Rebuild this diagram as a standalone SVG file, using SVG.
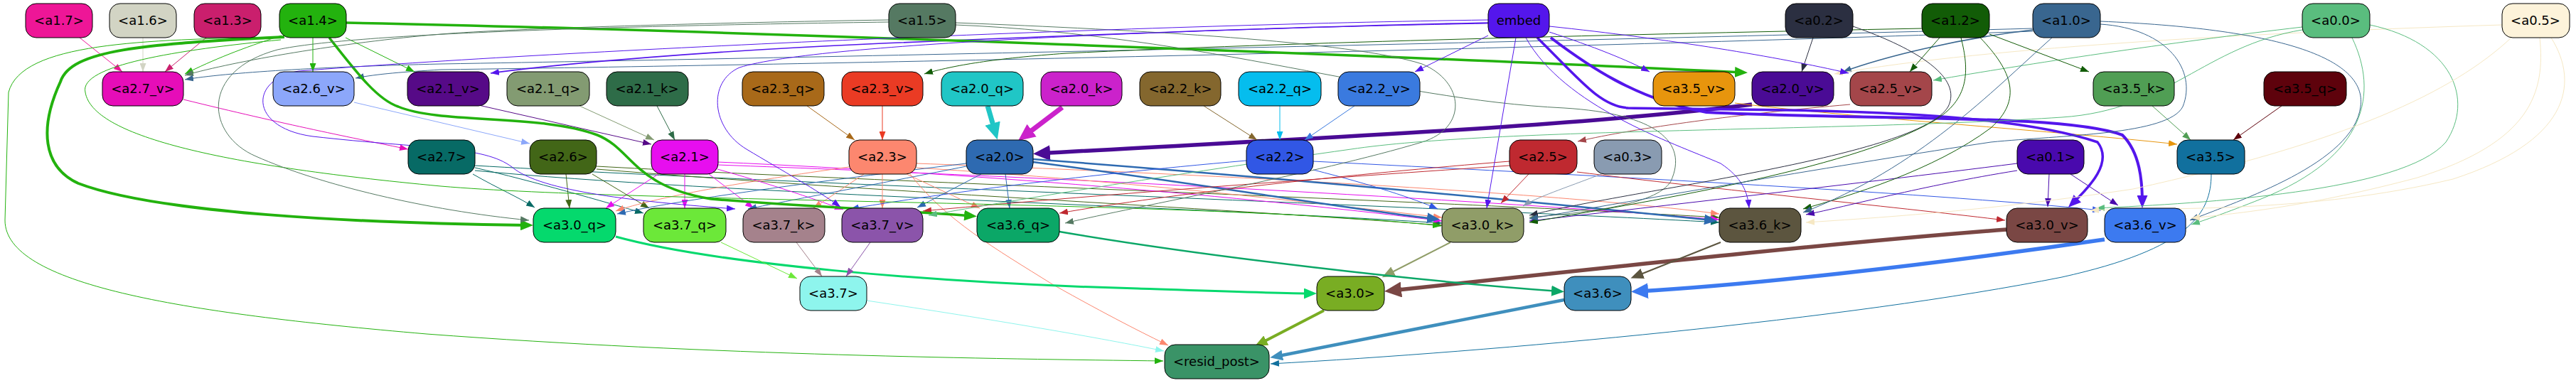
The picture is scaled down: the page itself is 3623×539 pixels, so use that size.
<svg xmlns="http://www.w3.org/2000/svg" width="3623" height="539" viewBox="0 0 3623 539">
<style>
.n rect{stroke:#000;stroke-width:1}
.n text{font-family:"DejaVu Sans","Liberation Sans",sans-serif;font-size:18px;text-anchor:middle;fill:#000}
.e{fill:none;stroke-width:1}
.w15{stroke-width:1.6}.w2{stroke-width:2}.w25{stroke-width:2.5}.w3{stroke-width:3}.w35{stroke-width:3.5}.w4{stroke-width:4}.w45{stroke-width:4.5}.w55{stroke-width:5.5}.w7{stroke-width:7}
.c-a1_7{stroke:#EE1697}.c-a1_6{stroke:#D2D4C4}.c-a1_3{stroke:#CA1F6D}.c-a1_4{stroke:#23B20E}.c-a1_5{stroke:#557962}.c-embed{stroke:#5416EC}.c-a0_2{stroke:#2B2F41}.c-a1_2{stroke:#125C07}.c-a1_0{stroke:#39668F}.c-a0_0{stroke:#5ABD7E}.c-a0_5{stroke:#F6E8C4}
.c-a2_7v{stroke:#E60DB8}.c-a2_6v{stroke:#8CA7FA}.c-a2_1v{stroke:#560A87}.c-a2_1q{stroke:#839B72}.c-a2_1k{stroke:#2E6C48}.c-a2_3q{stroke:#A86919}.c-a2_3v{stroke:#EA3B24}.c-a2_0q{stroke:#20C6C6}.c-a2_0k{stroke:#CB22CB}.c-a2_2k{stroke:#84672E}.c-a2_2q{stroke:#05BDEE}.c-a2_2v{stroke:#3A7ADF}.c-a3_5v{stroke:#E7950D}.c-a2_0v{stroke:#4A0B95}.c-a2_5v{stroke:#A4464A}.c-a3_5k{stroke:#509E54}.c-a3_5q{stroke:#5E020C}
.c-a2_7{stroke:#076A65}.c-a2_6{stroke:#426617}.c-a2_1{stroke:#E70EEF}.c-a2_3{stroke:#FC876F}.c-a2_0{stroke:#2E6AB1}.c-a2_2{stroke:#3157E5}.c-a2_5{stroke:#BF2930}.c-a0_3{stroke:#899BB1}.c-a0_1{stroke:#4909AD}.c-a3_5{stroke:#11709E}
.c-a3_0q{stroke:#05D96D}.c-a3_7q{stroke:#6CE839}.c-a3_7k{stroke:#A5828C}.c-a3_7v{stroke:#8B54AA}.c-a3_6q{stroke:#0BA767}.c-a3_0k{stroke:#909D68}.c-a3_6k{stroke:#5C553F}.c-a3_0v{stroke:#7A4744}.c-a3_6v{stroke:#3C7AF0}.c-a3_7{stroke:#8EF5ED}.c-a3_0{stroke:#79AD23}.c-a3_6{stroke:#3F8FBD}
</style>
<defs>
<marker id="t-a1_7" viewBox="0 0 12 9" refX="12" refY="4.5" markerWidth="12" markerHeight="9" markerUnits="userSpaceOnUse" orient="auto" preserveAspectRatio="none"><path d="M0,0L12,4.5L0,9z" fill="#EE1697"/></marker>
<marker id="t-a1_6" viewBox="0 0 12 9" refX="12" refY="4.5" markerWidth="12" markerHeight="9" markerUnits="userSpaceOnUse" orient="auto" preserveAspectRatio="none"><path d="M0,0L12,4.5L0,9z" fill="#D2D4C4"/></marker>
<marker id="t-a1_3" viewBox="0 0 12 9" refX="12" refY="4.5" markerWidth="12" markerHeight="9" markerUnits="userSpaceOnUse" orient="auto" preserveAspectRatio="none"><path d="M0,0L12,4.5L0,9z" fill="#CA1F6D"/></marker>
<marker id="t-a1_4" viewBox="0 0 12 9" refX="12" refY="4.5" markerWidth="12" markerHeight="9" markerUnits="userSpaceOnUse" orient="auto" preserveAspectRatio="none"><path d="M0,0L12,4.5L0,9z" fill="#23B20E"/></marker>
<marker id="t-a1_5" viewBox="0 0 12 9" refX="12" refY="4.5" markerWidth="12" markerHeight="9" markerUnits="userSpaceOnUse" orient="auto" preserveAspectRatio="none"><path d="M0,0L12,4.5L0,9z" fill="#557962"/></marker>
<marker id="t-embed" viewBox="0 0 12 9" refX="12" refY="4.5" markerWidth="12" markerHeight="9" markerUnits="userSpaceOnUse" orient="auto" preserveAspectRatio="none"><path d="M0,0L12,4.5L0,9z" fill="#5416EC"/></marker>
<marker id="t-a0_2" viewBox="0 0 12 9" refX="12" refY="4.5" markerWidth="12" markerHeight="9" markerUnits="userSpaceOnUse" orient="auto" preserveAspectRatio="none"><path d="M0,0L12,4.5L0,9z" fill="#2B2F41"/></marker>
<marker id="t-a1_2" viewBox="0 0 12 9" refX="12" refY="4.5" markerWidth="12" markerHeight="9" markerUnits="userSpaceOnUse" orient="auto" preserveAspectRatio="none"><path d="M0,0L12,4.5L0,9z" fill="#125C07"/></marker>
<marker id="t-a1_0" viewBox="0 0 12 9" refX="12" refY="4.5" markerWidth="12" markerHeight="9" markerUnits="userSpaceOnUse" orient="auto" preserveAspectRatio="none"><path d="M0,0L12,4.5L0,9z" fill="#39668F"/></marker>
<marker id="t-a0_0" viewBox="0 0 12 9" refX="12" refY="4.5" markerWidth="12" markerHeight="9" markerUnits="userSpaceOnUse" orient="auto" preserveAspectRatio="none"><path d="M0,0L12,4.5L0,9z" fill="#5ABD7E"/></marker>
<marker id="t-a0_5" viewBox="0 0 12 9" refX="12" refY="4.5" markerWidth="12" markerHeight="9" markerUnits="userSpaceOnUse" orient="auto" preserveAspectRatio="none"><path d="M0,0L12,4.5L0,9z" fill="#F6E8C4"/></marker>
<marker id="t-a2_7v" viewBox="0 0 12 9" refX="12" refY="4.5" markerWidth="12" markerHeight="9" markerUnits="userSpaceOnUse" orient="auto" preserveAspectRatio="none"><path d="M0,0L12,4.5L0,9z" fill="#E60DB8"/></marker>
<marker id="t-a2_6v" viewBox="0 0 12 9" refX="12" refY="4.5" markerWidth="12" markerHeight="9" markerUnits="userSpaceOnUse" orient="auto" preserveAspectRatio="none"><path d="M0,0L12,4.5L0,9z" fill="#8CA7FA"/></marker>
<marker id="t-a2_1v" viewBox="0 0 12 9" refX="12" refY="4.5" markerWidth="12" markerHeight="9" markerUnits="userSpaceOnUse" orient="auto" preserveAspectRatio="none"><path d="M0,0L12,4.5L0,9z" fill="#560A87"/></marker>
<marker id="t-a2_1q" viewBox="0 0 12 9" refX="12" refY="4.5" markerWidth="12" markerHeight="9" markerUnits="userSpaceOnUse" orient="auto" preserveAspectRatio="none"><path d="M0,0L12,4.5L0,9z" fill="#839B72"/></marker>
<marker id="t-a2_1k" viewBox="0 0 12 9" refX="12" refY="4.5" markerWidth="12" markerHeight="9" markerUnits="userSpaceOnUse" orient="auto" preserveAspectRatio="none"><path d="M0,0L12,4.5L0,9z" fill="#2E6C48"/></marker>
<marker id="t-a2_3q" viewBox="0 0 12 9" refX="12" refY="4.5" markerWidth="12" markerHeight="9" markerUnits="userSpaceOnUse" orient="auto" preserveAspectRatio="none"><path d="M0,0L12,4.5L0,9z" fill="#A86919"/></marker>
<marker id="t-a2_3v" viewBox="0 0 12 9" refX="12" refY="4.5" markerWidth="12" markerHeight="9" markerUnits="userSpaceOnUse" orient="auto" preserveAspectRatio="none"><path d="M0,0L12,4.5L0,9z" fill="#EA3B24"/></marker>
<marker id="t-a2_2k" viewBox="0 0 12 9" refX="12" refY="4.5" markerWidth="12" markerHeight="9" markerUnits="userSpaceOnUse" orient="auto" preserveAspectRatio="none"><path d="M0,0L12,4.5L0,9z" fill="#84672E"/></marker>
<marker id="t-a2_2q" viewBox="0 0 12 9" refX="12" refY="4.5" markerWidth="12" markerHeight="9" markerUnits="userSpaceOnUse" orient="auto" preserveAspectRatio="none"><path d="M0,0L12,4.5L0,9z" fill="#05BDEE"/></marker>
<marker id="t-a2_2v" viewBox="0 0 12 9" refX="12" refY="4.5" markerWidth="12" markerHeight="9" markerUnits="userSpaceOnUse" orient="auto" preserveAspectRatio="none"><path d="M0,0L12,4.5L0,9z" fill="#3A7ADF"/></marker>
<marker id="t-a2_5v" viewBox="0 0 12 9" refX="12" refY="4.5" markerWidth="12" markerHeight="9" markerUnits="userSpaceOnUse" orient="auto" preserveAspectRatio="none"><path d="M0,0L12,4.5L0,9z" fill="#A4464A"/></marker>
<marker id="t-a3_5v" viewBox="0 0 12 9" refX="12" refY="4.5" markerWidth="12" markerHeight="9" markerUnits="userSpaceOnUse" orient="auto" preserveAspectRatio="none"><path d="M0,0L12,4.5L0,9z" fill="#E7950D"/></marker>
<marker id="t-a3_5k" viewBox="0 0 12 9" refX="12" refY="4.5" markerWidth="12" markerHeight="9" markerUnits="userSpaceOnUse" orient="auto" preserveAspectRatio="none"><path d="M0,0L12,4.5L0,9z" fill="#509E54"/></marker>
<marker id="t-a3_5q" viewBox="0 0 12 9" refX="12" refY="4.5" markerWidth="12" markerHeight="9" markerUnits="userSpaceOnUse" orient="auto" preserveAspectRatio="none"><path d="M0,0L12,4.5L0,9z" fill="#5E020C"/></marker>
<marker id="t-a2_7" viewBox="0 0 12 9" refX="12" refY="4.5" markerWidth="12" markerHeight="9" markerUnits="userSpaceOnUse" orient="auto" preserveAspectRatio="none"><path d="M0,0L12,4.5L0,9z" fill="#076A65"/></marker>
<marker id="t-a2_6" viewBox="0 0 12 9" refX="12" refY="4.5" markerWidth="12" markerHeight="9" markerUnits="userSpaceOnUse" orient="auto" preserveAspectRatio="none"><path d="M0,0L12,4.5L0,9z" fill="#426617"/></marker>
<marker id="t-a2_1" viewBox="0 0 12 9" refX="12" refY="4.5" markerWidth="12" markerHeight="9" markerUnits="userSpaceOnUse" orient="auto" preserveAspectRatio="none"><path d="M0,0L12,4.5L0,9z" fill="#E70EEF"/></marker>
<marker id="t-a2_3" viewBox="0 0 12 9" refX="12" refY="4.5" markerWidth="12" markerHeight="9" markerUnits="userSpaceOnUse" orient="auto" preserveAspectRatio="none"><path d="M0,0L12,4.5L0,9z" fill="#FC876F"/></marker>
<marker id="t-a2_0" viewBox="0 0 12 9" refX="12" refY="4.5" markerWidth="12" markerHeight="9" markerUnits="userSpaceOnUse" orient="auto" preserveAspectRatio="none"><path d="M0,0L12,4.5L0,9z" fill="#2E6AB1"/></marker>
<marker id="t-a2_2" viewBox="0 0 12 9" refX="12" refY="4.5" markerWidth="12" markerHeight="9" markerUnits="userSpaceOnUse" orient="auto" preserveAspectRatio="none"><path d="M0,0L12,4.5L0,9z" fill="#3157E5"/></marker>
<marker id="t-a2_5" viewBox="0 0 12 9" refX="12" refY="4.5" markerWidth="12" markerHeight="9" markerUnits="userSpaceOnUse" orient="auto" preserveAspectRatio="none"><path d="M0,0L12,4.5L0,9z" fill="#BF2930"/></marker>
<marker id="t-a0_3" viewBox="0 0 12 9" refX="12" refY="4.5" markerWidth="12" markerHeight="9" markerUnits="userSpaceOnUse" orient="auto" preserveAspectRatio="none"><path d="M0,0L12,4.5L0,9z" fill="#899BB1"/></marker>
<marker id="t-a0_1" viewBox="0 0 12 9" refX="12" refY="4.5" markerWidth="12" markerHeight="9" markerUnits="userSpaceOnUse" orient="auto" preserveAspectRatio="none"><path d="M0,0L12,4.5L0,9z" fill="#4909AD"/></marker>
<marker id="t-a3_5" viewBox="0 0 12 9" refX="12" refY="4.5" markerWidth="12" markerHeight="9" markerUnits="userSpaceOnUse" orient="auto" preserveAspectRatio="none"><path d="M0,0L12,4.5L0,9z" fill="#11709E"/></marker>
<marker id="t-a3_7q" viewBox="0 0 12 9" refX="12" refY="4.5" markerWidth="12" markerHeight="9" markerUnits="userSpaceOnUse" orient="auto" preserveAspectRatio="none"><path d="M0,0L12,4.5L0,9z" fill="#6CE839"/></marker>
<marker id="t-a3_7k" viewBox="0 0 12 9" refX="12" refY="4.5" markerWidth="12" markerHeight="9" markerUnits="userSpaceOnUse" orient="auto" preserveAspectRatio="none"><path d="M0,0L12,4.5L0,9z" fill="#A5828C"/></marker>
<marker id="t-a3_7v" viewBox="0 0 12 9" refX="12" refY="4.5" markerWidth="12" markerHeight="9" markerUnits="userSpaceOnUse" orient="auto" preserveAspectRatio="none"><path d="M0,0L12,4.5L0,9z" fill="#8B54AA"/></marker>
<marker id="t-a3_7" viewBox="0 0 12 9" refX="12" refY="4.5" markerWidth="12" markerHeight="9" markerUnits="userSpaceOnUse" orient="auto" preserveAspectRatio="none"><path d="M0,0L12,4.5L0,9z" fill="#8EF5ED"/></marker>
<marker id="b-a1_4" viewBox="0 0 18 15" refX="11" refY="7.5" markerWidth="18" markerHeight="15" markerUnits="userSpaceOnUse" orient="auto" preserveAspectRatio="none"><path d="M0,0L18,7.5L0,15z" fill="#23B20E"/></marker>
<marker id="b-embed" viewBox="0 0 18 15" refX="11" refY="7.5" markerWidth="18" markerHeight="15" markerUnits="userSpaceOnUse" orient="auto" preserveAspectRatio="none"><path d="M0,0L18,7.5L0,15z" fill="#5416EC"/></marker>
<marker id="b-a2_0" viewBox="0 0 18 15" refX="11" refY="7.5" markerWidth="18" markerHeight="15" markerUnits="userSpaceOnUse" orient="auto" preserveAspectRatio="none"><path d="M0,0L18,7.5L0,15z" fill="#2E6AB1"/></marker>
<marker id="b-a3_0q" viewBox="0 0 18 15" refX="11" refY="7.5" markerWidth="18" markerHeight="15" markerUnits="userSpaceOnUse" orient="auto" preserveAspectRatio="none"><path d="M0,0L18,7.5L0,15z" fill="#05D96D"/></marker>
<marker id="b-a3_0k" viewBox="0 0 18 15" refX="11" refY="7.5" markerWidth="18" markerHeight="15" markerUnits="userSpaceOnUse" orient="auto" preserveAspectRatio="none"><path d="M0,0L18,7.5L0,15z" fill="#909D68"/></marker>
<marker id="b-a3_6q" viewBox="0 0 18 15" refX="11" refY="7.5" markerWidth="18" markerHeight="15" markerUnits="userSpaceOnUse" orient="auto" preserveAspectRatio="none"><path d="M0,0L18,7.5L0,15z" fill="#0BA767"/></marker>
<marker id="b-a3_6k" viewBox="0 0 18 15" refX="11" refY="7.5" markerWidth="18" markerHeight="15" markerUnits="userSpaceOnUse" orient="auto" preserveAspectRatio="none"><path d="M0,0L18,7.5L0,15z" fill="#5C553F"/></marker>
<marker id="b-a3_0" viewBox="0 0 18 15" refX="11" refY="7.5" markerWidth="18" markerHeight="15" markerUnits="userSpaceOnUse" orient="auto" preserveAspectRatio="none"><path d="M0,0L18,7.5L0,15z" fill="#79AD23"/></marker>
<marker id="b-a3_6" viewBox="0 0 18 15" refX="11" refY="7.5" markerWidth="18" markerHeight="15" markerUnits="userSpaceOnUse" orient="auto" preserveAspectRatio="none"><path d="M0,0L18,7.5L0,15z" fill="#3F8FBD"/></marker>
<marker id="h-a2_0q" viewBox="0 0 24 22" refX="14" refY="11" markerWidth="24" markerHeight="22" markerUnits="userSpaceOnUse" orient="auto" preserveAspectRatio="none"><path d="M0,0L24,11L0,22z" fill="#20C6C6"/></marker>
<marker id="h-a2_0k" viewBox="0 0 24 22" refX="14" refY="11" markerWidth="24" markerHeight="22" markerUnits="userSpaceOnUse" orient="auto" preserveAspectRatio="none"><path d="M0,0L24,11L0,22z" fill="#CB22CB"/></marker>
<marker id="h-a2_0v" viewBox="0 0 24 22" refX="14" refY="11" markerWidth="24" markerHeight="22" markerUnits="userSpaceOnUse" orient="auto" preserveAspectRatio="none"><path d="M0,0L24,11L0,22z" fill="#4A0B95"/></marker>
<marker id="h-a3_0v" viewBox="0 0 24 22" refX="14" refY="11" markerWidth="24" markerHeight="22" markerUnits="userSpaceOnUse" orient="auto" preserveAspectRatio="none"><path d="M0,0L24,11L0,22z" fill="#7A4744"/></marker>
<marker id="h-a3_6v" viewBox="0 0 24 22" refX="14" refY="11" markerWidth="24" markerHeight="22" markerUnits="userSpaceOnUse" orient="auto" preserveAspectRatio="none"><path d="M0,0L24,11L0,22z" fill="#3C7AF0"/></marker>
</defs>
<rect width="3623" height="539" fill="#fff"/>
<g id="connectors">
<path class="e c-a1_7" marker-end="url(#t-a1_7)" d="M112,53 L172,101"/>
<path class="e c-a1_6" marker-end="url(#t-a1_6)" d="M201,53 L201,101"/>
<path class="e c-a1_3" marker-end="url(#t-a1_3)" d="M290,53 L232,101"/>
<path class="e c-a1_4" marker-end="url(#t-a1_4)" d="M396,50 C340,68 300,84 260,104"/>
<path class="e c-a1_5" marker-end="url(#t-a1_5)" d="M1250,28 C1000,32 720,40 620,48 C480,60 330,86 260,106"/>
<path class="e c-a1_0" marker-end="url(#t-a1_0)" d="M2859,40 C2200,58 1200,80 620,90 C450,94 320,102 260,112"/>
<path class="e c-a1_4" marker-end="url(#t-a1_4)" d="M440,53 L440,101"/>
<path class="e c-a1_0" marker-end="url(#t-a1_0)" d="M2859,44 C2200,68 1200,90 620,98 C570,101 530,104 500,110"/>
<path class="e c-a1_4" marker-end="url(#t-a1_4)" d="M486,53 L583,101"/>
<path class="e w15 c-embed" marker-end="url(#t-embed)" d="M2093,32 C1800,38 1500,50 1220,62 C1000,72 800,88 690,103"/>
<path class="e c-a1_2" marker-end="url(#t-a1_2)" d="M2703,40 C2300,48 1800,60 1500,75 C1400,82 1340,92 1300,104"/>
<path class="e w35 c-a1_4" marker-end="url(#b-a1_4)" d="M487,32 C1000,42 2000,80 2451,102"/>
<path class="e c-a0_2" marker-end="url(#t-a0_2)" d="M2550,53 L2534,101"/>
<path class="e w15 c-a1_0" marker-end="url(#t-a1_0)" d="M2859,42 C2750,55 2650,80 2592,101"/>
<path class="e c-a0_5" marker-end="url(#t-a0_5)" d="M3519,35 C3200,45 2800,65 2580,104"/>
<path class="e c-a1_2" marker-end="url(#t-a1_2)" d="M2728,53 L2686,101"/>
<path class="e c-a0_0" marker-end="url(#t-a0_0)" d="M3238,38 C3050,60 2850,90 2719,113"/>
<path class="e c-embed" marker-end="url(#t-embed)" d="M2179,37 C2350,55 2500,80 2600,103"/>
<path class="e c-a1_2" marker-end="url(#t-a1_2)" d="M2798,48 L2938,101"/>
<path class="e c-embed" marker-end="url(#t-embed)" d="M2179,45 C2240,65 2290,85 2320,101"/>
<path class="e c-embed" marker-end="url(#t-embed)" d="M2093,50 L1990,101"/>
<path class="e c-a2_7v" marker-end="url(#t-a2_7v)" d="M258,140 C400,175 500,195 574,210"/>
<path class="e c-a2_6v" marker-end="url(#t-a2_6v)" d="M498,144 L745,202"/>
<path class="e c-a2_1v" marker-end="url(#t-a2_1v)" d="M660,145 L916,203"/>
<path class="e c-a2_1q" marker-end="url(#t-a2_1q)" d="M815,149 L920,197"/>
<path class="e c-a2_1k" marker-end="url(#t-a2_1k)" d="M924,149 L949,197"/>
<path class="e c-a2_3q" marker-end="url(#t-a2_3q)" d="M1135,149 L1202,197"/>
<path class="e c-a2_3v" marker-end="url(#t-a2_3v)" d="M1241,149 L1241,197"/>
<path class="e w7 c-a2_0q" marker-end="url(#h-a2_0q)" d="M1389,149 L1400,187"/>
<path class="e w7 c-a2_0k" marker-end="url(#h-a2_0k)" d="M1494,151 L1440,192"/>
<path class="e w55 c-a2_0v" marker-end="url(#h-a2_0v)" d="M2464,147 C2200,180 1800,196 1463,216"/>
<path class="e c-a2_2k" marker-end="url(#t-a2_2k)" d="M1693,149 L1768,197"/>
<path class="e c-a2_2q" marker-end="url(#t-a2_2q)" d="M1800,149 L1800,197"/>
<path class="e c-a2_2v" marker-end="url(#t-a2_2v)" d="M1905,149 L1835,197"/>
<path class="e c-a2_5v" marker-end="url(#t-a2_5v)" d="M2602,147 C2450,160 2300,180 2219,199"/>
<path class="e c-a3_5v" marker-end="url(#t-a3_5v)" d="M2440,145 C2600,165 2900,185 3062,203"/>
<path class="e c-a3_5k" marker-end="url(#t-a3_5k)" d="M3027,149 L3081,197"/>
<path class="e c-a3_5q" marker-end="url(#t-a3_5q)" d="M3209,149 L3141,197"/>
<path class="e c-a2_7" marker-end="url(#t-a2_7)" d="M665,245 C700,265 730,278 752,292"/>
<path class="e c-a2_7" marker-end="url(#t-a2_7)" d="M668,236 C750,255 850,284 905,300"/>
<path class="e c-a2_7" marker-end="url(#t-a2_7)" d="M668,240 C1000,272 1700,292 2028,314"/>
<path class="e c-a2_7" marker-end="url(#t-a2_7)" d="M668,233 C1100,258 2000,290 2418,313"/>
<path class="e c-a2_6" marker-end="url(#t-a2_6)" d="M796,245 L801,293"/>
<path class="e c-a2_6" marker-end="url(#t-a2_6)" d="M833,245 L913,293"/>
<path class="e c-a2_6" marker-end="url(#t-a2_6)" d="M839,238 C1200,268 1700,292 2028,317"/>
<path class="e c-a2_6" marker-end="url(#t-a2_6)" d="M839,234 C1200,254 2000,282 2418,306"/>
<path class="e c-a2_1" marker-end="url(#t-a2_1)" d="M926,245 L852,293"/>
<path class="e c-a2_1" marker-end="url(#t-a2_1)" d="M963,245 L963,293"/>
<path class="e c-a2_1" marker-end="url(#t-a2_1)" d="M997,245 L1060,293"/>
<path class="e c-a2_1" marker-end="url(#t-a2_1)" d="M1009,238 C1080,258 1140,278 1186,295"/>
<path class="e c-a2_1" marker-end="url(#t-a2_1)" d="M1009,228 C1400,245 1800,282 2028,311"/>
<path class="e c-a2_1" marker-end="url(#t-a2_1)" d="M1009,232 C1500,250 2100,282 2418,309"/>
<path class="e c-a2_3" marker-end="url(#t-a2_3)" d="M1194,235 C1050,255 920,278 866,297"/>
<path class="e c-a2_3" marker-end="url(#t-a2_3)" d="M1215,245 L1144,293"/>
<path class="e c-a2_3" marker-end="url(#t-a2_3)" d="M1241,245 L1241,293"/>
<path class="e c-a2_3" marker-end="url(#t-a2_3)" d="M1275,245 L1378,293"/>
<path class="e c-a2_3" marker-end="url(#t-a2_3)" d="M1280,245 C1330,310 1400,350 1480,400 C1560,445 1610,470 1643,486"/>
<path class="e c-a2_3" marker-end="url(#t-a2_3)" d="M1289,236 C1600,256 1850,286 2028,306"/>
<path class="e c-a2_3" marker-end="url(#t-a2_3)" d="M1289,230 C1700,245 2200,272 2418,301"/>
<path class="e w25 c-a2_0" marker-end="url(#b-a2_0)" d="M1453,228 C1700,260 1900,295 2018,308"/>
<path class="e w25 c-a2_0" marker-end="url(#b-a2_0)" d="M1453,224 C1800,250 2200,288 2408,310"/>
<path class="e c-a2_0" marker-end="url(#t-a2_0)" d="M1414,245 L1420,293"/>
<path class="e c-a2_0" marker-end="url(#t-a2_0)" d="M1380,245 L1290,292"/>
<path class="e c-a2_0" marker-end="url(#t-a2_0)" d="M1359,234 C1250,256 1120,280 1052,294"/>
<path class="e c-a2_0" marker-end="url(#t-a2_0)" d="M1359,230 C1150,255 950,282 868,301"/>
<path class="e c-a2_2" marker-end="url(#t-a2_2)" d="M1847,239 C1930,260 1990,280 2022,294"/>
<path class="e c-a2_2" marker-end="url(#t-a2_2)" d="M1847,227 C2200,245 2700,270 2955,296"/>
<path class="e c-a2_2" marker-end="url(#t-a2_2)" d="M1753,226 C1500,248 1300,276 1196,294"/>
<path class="e c-a2_5" marker-end="url(#t-a2_5)" d="M2150,245 L2111,286"/>
<path class="e c-a2_5" marker-end="url(#t-a2_5)" d="M2218,242 C2400,265 2700,295 2820,310"/>
<path class="e c-a2_5" marker-end="url(#t-a2_5)" d="M2123,227 C1900,245 1650,272 1490,300"/>
<path class="e c-a2_5" marker-end="url(#t-a2_5)" d="M2123,233 C1800,255 1500,278 1298,297"/>
<path class="e c-a0_3" marker-end="url(#t-a0_3)" d="M2252,245 C2200,265 2160,278 2142,290"/>
<path class="e c-a0_1" marker-end="url(#t-a0_1)" d="M2882,245 L2880,291"/>
<path class="e c-a0_1" marker-end="url(#t-a0_1)" d="M2912,245 L2979,289"/>
<path class="e c-a0_1" marker-end="url(#t-a0_1)" d="M2837,230 C2600,260 2300,294 2151,311"/>
<path class="e c-a0_1" marker-end="url(#t-a0_1)" d="M2837,240 C2700,262 2600,290 2540,302"/>
<path class="e c-a3_5" marker-end="url(#t-a3_5)" d="M3110,245 C3110,300 3080,350 2900,390 C2600,450 2100,495 1787,512"/>
<path class="e w4 c-a1_4" marker-end="url(#b-a1_4)" d="M400,52 C200,62 100,70 85,115 C55,180 60,235 110,258 C220,300 500,314 743,317"/>
<path class="e w35 c-a1_4" marker-end="url(#b-a1_4)" d="M463,53 C500,100 530,140 560,150 C620,175 760,160 840,190 C890,210 890,262 1000,280 C1150,292 1300,298 1367,304"/>
<path class="e c-a1_4" marker-end="url(#t-a1_4)" d="M395,52 C200,56 30,60 12,130 L7,310 C7,400 250,440 600,470 C1000,500 1400,505 1636,508"/>
<path class="e c-a1_4" marker-end="url(#t-a1_4)" d="M395,56 C250,70 110,92 120,130 C130,190 300,232 620,262 C900,286 1700,282 2027,318"/>
<path class="e c-a1_5" marker-end="url(#t-a1_5)" d="M1250,31 C900,36 500,46 390,70 C280,100 290,190 360,220 C450,260 600,296 744,310"/>
<path class="e c-a1_5" marker-end="url(#t-a1_5)" d="M1344,32 C1600,42 1900,58 2000,90 C2060,115 2065,180 2000,200 C1850,245 1600,290 1498,314"/>
<path class="e c-a1_5" marker-end="url(#t-a1_5)" d="M1344,35 C1700,50 1950,140 2200,152 C2330,160 2375,200 2350,255 C2330,290 2220,300 2151,306"/>
<path class="e c-embed" marker-end="url(#t-embed)" d="M2093,28 C1600,35 800,70 420,100 C350,112 350,180 440,192 C600,210 680,205 720,235 C760,270 900,284 1034,294"/>
<path class="e c-embed" marker-end="url(#t-embed)" d="M2093,33 C1700,40 1150,60 1040,95 C995,115 1000,180 1050,210 C1100,240 1150,268 1182,291"/>
<path class="e c-embed" marker-end="url(#t-embed)" d="M2132,53 L2091,293"/>
<path class="e c-embed" marker-end="url(#t-embed)" d="M2146,53 C2200,150 2350,200 2420,230 C2450,250 2458,270 2460,293"/>
<path class="e w35 c-embed" marker-end="url(#b-embed)" d="M2162,53 C2220,110 2250,150 2290,152 C2500,156 2800,150 2950,200 C2972,228 2940,262 2914,287"/>
<path class="e w4 c-embed" marker-end="url(#b-embed)" d="M2181,53 C2230,90 2300,140 2400,158 C2650,170 2900,160 2985,190 C3010,215 3013,255 3013,286"/>
<path class="e c-a0_2" marker-end="url(#t-a0_2)" d="M2606,37 C2700,70 2760,110 2740,150 C2700,220 2300,266 2151,303"/>
<path class="e c-a1_2" marker-end="url(#t-a1_2)" d="M2758,53 C2770,100 2770,140 2720,170 C2600,240 2300,286 2151,313"/>
<path class="e c-a1_2" marker-end="url(#t-a1_2)" d="M2785,53 C2830,100 2845,140 2800,180 C2720,240 2600,276 2536,294"/>
<path class="e c-a1_0" marker-end="url(#t-a1_0)" d="M2886,53 C2800,130 2700,235 2536,299"/>
<path class="e c-a1_0" marker-end="url(#t-a1_0)" d="M2954,34 C3050,40 3090,100 3070,150 C3050,190 2900,190 2800,200 C2600,230 2300,282 2151,308"/>
<path class="e c-a1_0" marker-end="url(#t-a1_0)" d="M2954,30 C3200,40 3330,80 3320,150 C3310,230 3150,282 3080,310"/>
<path class="e c-a0_0" marker-end="url(#t-a0_0)" d="M3238,42 C3100,65 3050,155 2900,165 C2600,185 2100,180 1900,210 C1650,245 1400,286 1306,303"/>
<path class="e c-a0_0" marker-end="url(#t-a0_0)" d="M3308,53 C3345,130 3330,220 3180,280 C3130,300 3100,310 3082,316"/>
<path class="e c-a0_0" marker-end="url(#t-a0_0)" d="M3333,35 C3450,60 3480,140 3440,200 C3380,270 3100,286 2948,293"/>
<path class="e c-a0_5" marker-end="url(#t-a0_5)" d="M3532,53 C3450,130 3300,200 3000,266 C2800,296 2650,306 2540,313"/>
<path class="e c-a0_5" marker-end="url(#t-a0_5)" d="M3572,53 C3580,130 3560,200 3400,250 C3250,290 3150,300 3082,307"/>
<path class="e c-a0_5" marker-end="url(#t-a0_5)" d="M3588,53 C3630,120 3610,200 3450,252 C3250,300 3050,292 2940,296"/>
<path class="e w3 c-a3_0q" marker-end="url(#b-a3_0q)" d="M866,333 C1000,370 1300,398 1600,406 C1720,410 1800,413 1845,413"/>
<path class="e w2 c-a3_0k" marker-end="url(#b-a3_0k)" d="M2040,341 L1950,387"/>
<path class="e w55 c-a3_0v" marker-end="url(#h-a3_0v)" d="M2822,323 C2600,340 2300,372 1957,409"/>
<path class="e w25 c-a3_6q" marker-end="url(#b-a3_6q)" d="M1490,326 C1700,362 2000,396 2193,410"/>
<path class="e w2 c-a3_6k" marker-end="url(#b-a3_6k)" d="M2420,341 L2300,389"/>
<path class="e w55 c-a3_6v" marker-end="url(#h-a3_6v)" d="M2960,337 C2700,375 2450,402 2304,410"/>
<path class="e c-a3_7q" marker-end="url(#t-a3_7q)" d="M1014,341 L1121,392"/>
<path class="e c-a3_7k" marker-end="url(#t-a3_7k)" d="M1120,341 L1156,389"/>
<path class="e c-a3_7v" marker-end="url(#t-a3_7v)" d="M1224,341 L1190,389"/>
<path class="e c-a3_7" marker-end="url(#t-a3_7)" d="M1219,423 C1400,450 1550,476 1637,494"/>
<path class="e w4 c-a3_0" marker-end="url(#b-a3_0)" d="M1862,437 L1771,484"/>
<path class="e w45 c-a3_6" marker-end="url(#b-a3_6)" d="M2200,422 C2050,452 1900,482 1793,502"/>
</g>
<g id="a1_7" class="n"><rect x="36" y="5" width="94" height="48" rx="15" fill="#EE1697"/><text x="83" y="35">&lt;a1.7&gt;</text></g>
<g id="a1_6" class="n"><rect x="154" y="5" width="94" height="48" rx="15" fill="#D2D4C4"/><text x="201" y="35">&lt;a1.6&gt;</text></g>
<g id="a1_3" class="n"><rect x="273" y="5" width="94" height="48" rx="15" fill="#CA1F6D"/><text x="320" y="35">&lt;a1.3&gt;</text></g>
<g id="a1_4" class="n"><rect x="393" y="5" width="94" height="48" rx="15" fill="#23B20E"/><text x="440" y="35">&lt;a1.4&gt;</text></g>
<g id="a1_5" class="n"><rect x="1250" y="5" width="94" height="48" rx="15" fill="#557962"/><text x="1297" y="35">&lt;a1.5&gt;</text></g>
<g id="embed" class="n"><rect x="2093" y="5" width="86" height="48" rx="15" fill="#5416EC"/><text x="2136" y="35">embed</text></g>
<g id="a0_2" class="n"><rect x="2511" y="5" width="95" height="48" rx="15" fill="#2B2F41"/><text x="2558" y="35">&lt;a0.2&gt;</text></g>
<g id="a1_2" class="n"><rect x="2703" y="5" width="95" height="48" rx="15" fill="#125C07"/><text x="2750" y="35">&lt;a1.2&gt;</text></g>
<g id="a1_0" class="n"><rect x="2859" y="5" width="95" height="48" rx="15" fill="#39668F"/><text x="2906" y="35">&lt;a1.0&gt;</text></g>
<g id="a0_0" class="n"><rect x="3238" y="5" width="95" height="48" rx="15" fill="#5ABD7E"/><text x="3285" y="35">&lt;a0.0&gt;</text></g>
<g id="a0_5" class="n"><rect x="3519" y="5" width="95" height="48" rx="15" fill="#FDF3DA"/><text x="3566" y="35">&lt;a0.5&gt;</text></g>
<g id="a2_7_v" class="n"><rect x="144" y="101" width="114" height="48" rx="15" fill="#E60DB8"/><text x="201" y="131">&lt;a2.7_v&gt;</text></g>
<g id="a2_6_v" class="n"><rect x="384" y="101" width="114" height="48" rx="15" fill="#8CA7FA"/><text x="441" y="131">&lt;a2.6_v&gt;</text></g>
<g id="a2_1_v" class="n"><rect x="573" y="101" width="115" height="48" rx="15" fill="#560A87"/><text x="630" y="131">&lt;a2.1_v&gt;</text></g>
<g id="a2_1_q" class="n"><rect x="713" y="101" width="116" height="48" rx="15" fill="#839B72"/><text x="771" y="131">&lt;a2.1_q&gt;</text></g>
<g id="a2_1_k" class="n"><rect x="853" y="101" width="115" height="48" rx="15" fill="#2E6C48"/><text x="910" y="131">&lt;a2.1_k&gt;</text></g>
<g id="a2_3_q" class="n"><rect x="1044" y="101" width="115" height="48" rx="15" fill="#A86919"/><text x="1101" y="131">&lt;a2.3_q&gt;</text></g>
<g id="a2_3_v" class="n"><rect x="1184" y="101" width="114" height="48" rx="15" fill="#EA3B24"/><text x="1241" y="131">&lt;a2.3_v&gt;</text></g>
<g id="a2_0_q" class="n"><rect x="1324" y="101" width="115" height="48" rx="15" fill="#20C6C6"/><text x="1381" y="131">&lt;a2.0_q&gt;</text></g>
<g id="a2_0_k" class="n"><rect x="1464" y="101" width="114" height="48" rx="15" fill="#CB22CB"/><text x="1521" y="131">&lt;a2.0_k&gt;</text></g>
<g id="a2_2_k" class="n"><rect x="1603" y="101" width="114" height="48" rx="15" fill="#84672E"/><text x="1660" y="131">&lt;a2.2_k&gt;</text></g>
<g id="a2_2_q" class="n"><rect x="1742" y="101" width="116" height="48" rx="15" fill="#05BDEE"/><text x="1800" y="131">&lt;a2.2_q&gt;</text></g>
<g id="a2_2_v" class="n"><rect x="1882" y="101" width="115" height="48" rx="15" fill="#3A7ADF"/><text x="1939" y="131">&lt;a2.2_v&gt;</text></g>
<g id="a3_5_v" class="n"><rect x="2325" y="101" width="115" height="48" rx="15" fill="#E7950D"/><text x="2382" y="131">&lt;a3.5_v&gt;</text></g>
<g id="a2_0_v" class="n"><rect x="2464" y="101" width="115" height="48" rx="15" fill="#4A0B95"/><text x="2521" y="131">&lt;a2.0_v&gt;</text></g>
<g id="a2_5_v" class="n"><rect x="2602" y="101" width="115" height="48" rx="15" fill="#A4464A"/><text x="2659" y="131">&lt;a2.5_v&gt;</text></g>
<g id="a3_5_k" class="n"><rect x="2944" y="101" width="114" height="48" rx="15" fill="#509E54"/><text x="3001" y="131">&lt;a3.5_k&gt;</text></g>
<g id="a3_5_q" class="n"><rect x="3184" y="101" width="116" height="48" rx="15" fill="#5E020C"/><text x="3242" y="131">&lt;a3.5_q&gt;</text></g>
<g id="a2_7" class="n"><rect x="574" y="197" width="94" height="48" rx="15" fill="#076A65"/><text x="621" y="227">&lt;a2.7&gt;</text></g>
<g id="a2_6" class="n"><rect x="745" y="197" width="94" height="48" rx="15" fill="#426617"/><text x="792" y="227">&lt;a2.6&gt;</text></g>
<g id="a2_1" class="n"><rect x="916" y="197" width="94" height="48" rx="15" fill="#E70EEF"/><text x="963" y="227">&lt;a2.1&gt;</text></g>
<g id="a2_3" class="n"><rect x="1194" y="197" width="95" height="48" rx="15" fill="#FC876F"/><text x="1241" y="227">&lt;a2.3&gt;</text></g>
<g id="a2_0" class="n"><rect x="1359" y="197" width="94" height="48" rx="15" fill="#2E6AB1"/><text x="1406" y="227">&lt;a2.0&gt;</text></g>
<g id="a2_2" class="n"><rect x="1753" y="197" width="94" height="48" rx="15" fill="#3157E5"/><text x="1800" y="227">&lt;a2.2&gt;</text></g>
<g id="a2_5" class="n"><rect x="2123" y="197" width="95" height="48" rx="15" fill="#BF2930"/><text x="2170" y="227">&lt;a2.5&gt;</text></g>
<g id="a0_3" class="n"><rect x="2242" y="197" width="95" height="48" rx="15" fill="#899BB1"/><text x="2289" y="227">&lt;a0.3&gt;</text></g>
<g id="a0_1" class="n"><rect x="2837" y="197" width="94" height="48" rx="15" fill="#4909AD"/><text x="2884" y="227">&lt;a0.1&gt;</text></g>
<g id="a3_5" class="n"><rect x="3062" y="197" width="95" height="48" rx="15" fill="#11709E"/><text x="3109" y="227">&lt;a3.5&gt;</text></g>
<g id="a3_0_q" class="n"><rect x="750" y="293" width="116" height="48" rx="15" fill="#05D96D"/><text x="808" y="323">&lt;a3.0_q&gt;</text></g>
<g id="a3_7_q" class="n"><rect x="905" y="293" width="116" height="48" rx="15" fill="#6CE839"/><text x="963" y="323">&lt;a3.7_q&gt;</text></g>
<g id="a3_7_k" class="n"><rect x="1045" y="293" width="115" height="48" rx="15" fill="#A5828C"/><text x="1102" y="323">&lt;a3.7_k&gt;</text></g>
<g id="a3_7_v" class="n"><rect x="1184" y="293" width="114" height="48" rx="15" fill="#8B54AA"/><text x="1241" y="323">&lt;a3.7_v&gt;</text></g>
<g id="a3_6_q" class="n"><rect x="1374" y="293" width="116" height="48" rx="15" fill="#0BA767"/><text x="1432" y="323">&lt;a3.6_q&gt;</text></g>
<g id="a3_0_k" class="n"><rect x="2028" y="293" width="115" height="48" rx="15" fill="#909D68"/><text x="2085" y="323">&lt;a3.0_k&gt;</text></g>
<g id="a3_6_k" class="n"><rect x="2418" y="293" width="115" height="48" rx="15" fill="#5C553F"/><text x="2475" y="323">&lt;a3.6_k&gt;</text></g>
<g id="a3_0_v" class="n"><rect x="2822" y="293" width="114" height="48" rx="15" fill="#7A4744"/><text x="2879" y="323">&lt;a3.0_v&gt;</text></g>
<g id="a3_6_v" class="n"><rect x="2960" y="293" width="114" height="48" rx="15" fill="#3C7AF0"/><text x="3017" y="323">&lt;a3.6_v&gt;</text></g>
<g id="a3_7" class="n"><rect x="1125" y="389" width="94" height="48" rx="15" fill="#8EF5ED"/><text x="1172" y="419">&lt;a3.7&gt;</text></g>
<g id="a3_0" class="n"><rect x="1852" y="389" width="95" height="48" rx="15" fill="#79AD23"/><text x="1899" y="419">&lt;a3.0&gt;</text></g>
<g id="a3_6" class="n"><rect x="2200" y="389" width="94" height="48" rx="15" fill="#3F8FBD"/><text x="2247" y="419">&lt;a3.6&gt;</text></g>
<g id="resid_post" class="n"><rect x="1638" y="485" width="147" height="48" rx="15" fill="#3A9367"/><text x="1711" y="515">&lt;resid_post&gt;</text></g>
</svg>
